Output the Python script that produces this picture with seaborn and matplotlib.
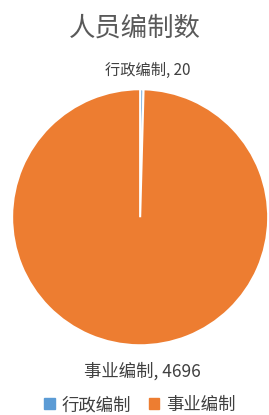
import matplotlib
matplotlib.use("Agg")
import matplotlib.pyplot as plt
import seaborn as sns

# data
categories = ["行政编制", "事业编制"]
values = [20, 4696]
colors = ["#5B9BD5", "#ED7D31"]
title = "人员编制数"

sns.set_theme(style="white")
plt.rcParams['font.family'] = ['Noto Sans CJK SC', 'DejaVu Sans']

fig = plt.figure(figsize=(2.69, 4.15), dpi=100)
ax = fig.add_axes([0.045, 0.168, 0.952, 0.617])

wedges, texts = ax.pie(
    values, colors=colors, startangle=90, counterclock=False,
    labels=[f"{c}, {v}" for c, v in zip(categories, values)],
    labeldistance=1.17,
    wedgeprops=dict(edgecolor="white", linewidth=1.5),
)
ax.set_xlim(-1, 1)
ax.set_ylim(-1, 1)
ax.set_aspect("equal")

for t, fs in zip(texts, [11, 12.5]):
    t.set_ha("center")
    t.set_va("center")
    t.set_fontsize(fs)
    t.set_color("#404040")
texts[0].set_position((0.06, 1.15))
texts[1].set_position((0.02, -1.2))

fig.text(0.5, 0.932, title, ha="center", va="center", fontsize=19, color="#595959")

handles = [plt.Rectangle((0, 0), 1, 1, color=c) for c in colors]
fig.legend(handles, categories, loc="center", bbox_to_anchor=(0.52, 0.024),
           ncol=2, frameon=False, fontsize=12.5, handlelength=0.6, handleheight=0.6,
           handletextpad=0.4, columnspacing=1.0, labelcolor="#404040")

fig.savefig("out.png", dpi=100)
